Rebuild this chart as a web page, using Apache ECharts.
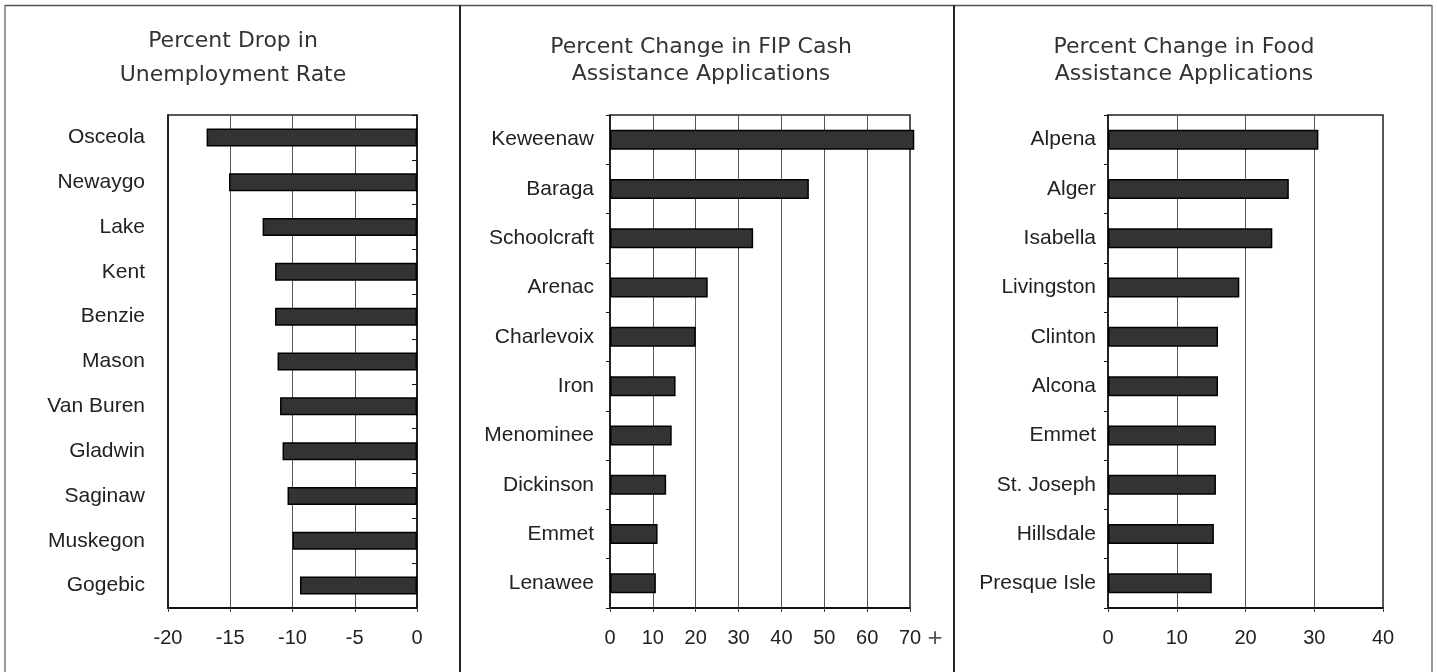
<!DOCTYPE html>
<html><head><meta charset="utf-8">
<script src="https://cdn.jsdelivr.net/npm/echarts@6/dist/echarts.min.js"></script>
<style>html,body{margin:0;padding:0;background:#fff;}#c{width:1437px;height:672px;}</style>
</head><body><div id="c"></div>
<script>
// ---- data ----
const unempCounties = ['Osceola','Newaygo','Lake','Kent','Benzie','Mason','Van Buren','Gladwin','Saginaw','Muskegon','Gogebic'];
const unempValues = [-16.9,-15.1,-12.4,-11.4,-11.4,-11.2,-11.0,-10.8,-10.4,-10.0,-9.4];
const unempTicks = [-20,-15,-10,-5,0];

const fipCounties = ['Keweenaw','Baraga','Schoolcraft','Arenac','Charlevoix','Iron','Menominee','Dickinson','Emmet','Lenawee'];
const fipValues = [71,46.4,33.4,22.8,20.0,15.3,14.4,13.1,11.1,10.7];
const fipTicks = [0,10,20,30,40,50,60,70];

const foodCounties = ['Alpena','Alger','Isabella','Livingston','Clinton','Alcona','Emmet','St. Joseph','Hillsdale','Presque Isle'];
const foodValues = [30.6,26.3,23.9,19.1,16.0,16.0,15.7,15.7,15.4,15.1];
const foodTicks = [0,10,20,30,40];

const titles = ['Percent Drop in\nUnemployment Rate','Percent Change in FIP Cash\nAssistance Applications','Percent Change in Food\nAssistance Applications'];
const fipOverflowMark = '+';

// ---- build ----
const LBL = "'Liberation Sans', Arial, sans-serif";
const chart = echarts.init(document.getElementById('c'), null, {renderer:'canvas'});

function xAx(grid, ticks) {
  return {
    type:'value', gridIndex:grid,
    min:ticks[0], max:ticks[ticks.length-1], interval:ticks[1]-ticks[0],
    axisLine:{show:true, onZero:false, lineStyle:{color:'#111', width:2}},
    axisTick:{show:true, length:4, lineStyle:{color:'#444', width:1}},
    splitLine:{show:true, lineStyle:{color:'#555', width:1}},
    axisLabel:{fontFamily:LBL, fontSize:20, color:'#222', margin:20, showMinLabel:true, showMaxLabel:true, hideOverlap:false}
  };
}
function yAx(grid, cats, opts) {
  return Object.assign({
    type:'category', gridIndex:grid, data:cats, inverse:true,
    axisLine:{show:true, onZero:false, lineStyle:{color:'#111', width:1.5}},
    axisTick:{show:true, length:4, lineStyle:{color:'#111', width:1}},
    splitLine:{show:false},
    axisLabel:{fontFamily:LBL, fontSize:21, color:'#222', margin:14}
  }, opts || {});
}
const barStyle = {color:'#333333', borderColor:'#000', borderWidth:1.5};
const fipMax = fipTicks[fipTicks.length-1];

const option = {
  animation:false,
  backgroundColor:'#fff',
  grid:[
    {left:168, top:115, width:249, height:493, show:true, borderColor:'#222', borderWidth:1.5, backgroundColor:'#fff'},
    {left:610, top:115, width:300, height:493, show:true, borderColor:'#222', borderWidth:1.5, backgroundColor:'#fff'},
    {left:1108, top:115, width:275, height:493, show:true, borderColor:'#222', borderWidth:1.5, backgroundColor:'#fff'}
  ],
  xAxis:[ xAx(0, unempTicks), xAx(1, fipTicks), xAx(2, foodTicks) ],
  yAxis:[
    yAx(0, unempCounties, {position:'left', axisTick:{show:false}, axisLabel:{fontFamily:LBL, fontSize:21, color:'#222', margin:23}}),
    yAx(0, unempCounties, {position:'right', axisTick:{show:true, inside:true, length:5, lineStyle:{color:'#111'}}, axisLabel:{show:false}}),
    yAx(1, fipCounties, {position:'left', axisLabel:{fontFamily:LBL, fontSize:21, color:'#222', margin:16}}),
    yAx(2, foodCounties, {position:'left', axisLabel:{fontFamily:LBL, fontSize:21, color:'#222', margin:12}})
  ],
  series:[
    {type:'bar', xAxisIndex:0, yAxisIndex:0, data:unempValues, barWidth:18, itemStyle:barStyle, z:3},
    {type:'bar', xAxisIndex:1, yAxisIndex:2, data:fipValues, barWidth:20, itemStyle:barStyle, clip:false, z:3},
    {type:'bar', xAxisIndex:2, yAxisIndex:3, data:foodValues, barWidth:20, itemStyle:barStyle, z:3}
  ],
  graphic:[
    {type:'line', shape:{x1:5, y1:5, x2:5, y2:672}, style:{stroke:'#777', lineWidth:1.5}, silent:true},
    {type:'line', shape:{x1:5, y1:5.5, x2:1432, y2:5.5}, style:{stroke:'#555', lineWidth:1.5}, silent:true},
    {type:'line', shape:{x1:1432, y1:5, x2:1432, y2:672}, style:{stroke:'#777', lineWidth:1.5}, silent:true},
    {type:'line', shape:{x1:460, y1:5, x2:460, y2:672}, style:{stroke:'#222', lineWidth:2}, silent:true},
    {type:'line', shape:{x1:954, y1:5, x2:954, y2:672}, style:{stroke:'#222', lineWidth:2}, silent:true},
    {type:'text', x:233, y:58, style:{text:titles[0], font:"22px 'DejaVu Sans'", fill:'#333', textAlign:'center', textVerticalAlign:'middle', lineHeight:34}, silent:true},
    {type:'text', x:701, y:61, style:{text:titles[1], font:"22px 'DejaVu Sans'", fill:'#333', textAlign:'center', textVerticalAlign:'middle', lineHeight:27}, silent:true},
    {type:'text', x:1184, y:61, style:{text:titles[2], font:"22px 'DejaVu Sans'", fill:'#333', textAlign:'center', textVerticalAlign:'middle', lineHeight:27}, silent:true}
  ]
};
chart.setOption(option);

// "+" marker after the last tick label of the FIP axis, placed via the axis scale
const px = chart.convertToPixel({xAxisIndex:1}, fipMax);
chart.setOption({graphic:[{type:'text', id:'plus', x:px + 25, y:639,
  style:{text:fipOverflowMark, font:"26px 'Liberation Sans'", fill:'#555', textAlign:'center', textVerticalAlign:'middle'}, silent:true}]});
</script>
</body></html>
